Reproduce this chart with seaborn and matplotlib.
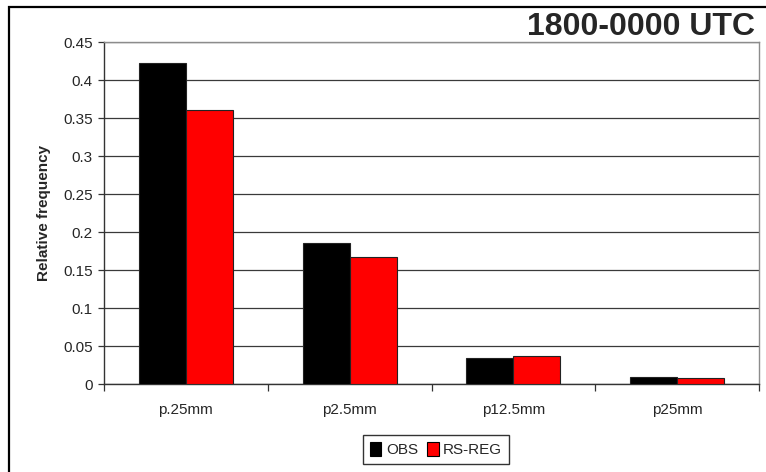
import matplotlib
matplotlib.use("Agg")
import matplotlib.pyplot as plt
from matplotlib.patches import Rectangle
import seaborn as sns
import pandas as pd

categories = ["p.25mm", "p2.5mm", "p12.5mm", "p25mm"]
obs = [0.422, 0.186, 0.034, 0.009]
rs_reg = [0.361, 0.167, 0.037, 0.0085]
series_names = ["OBS", "RS-REG"]
y_ticks = [0, 0.05, 0.1, 0.15, 0.2, 0.25, 0.3, 0.35, 0.4, 0.45]
y_tick_labels = ["0", "0.05", "0.1", "0.15", "0.2", "0.25", "0.3", "0.35", "0.4", "0.45"]

df = pd.DataFrame({
    "category": categories * 2,
    "series": [series_names[0]] * len(categories) + [series_names[1]] * len(categories),
    "value": obs + rs_reg,
})

sns.set_theme(style="white")
plt.rcParams["font.family"] = ["Liberation Sans", "DejaVu Sans"]

W, H = 766, 472
fig = plt.figure(figsize=(W / 100, H / 100), dpi=100)
fig.patch.set_facecolor("white")

# outer frame of the chart area (open on the right and bottom)
fig.add_artist(Rectangle((9 / W, -0.05), 1.2, 1 - 7 / H + 0.05, transform=fig.transFigure,
                         fill=False, edgecolor="black", linewidth=1.6))

ax = fig.add_axes([104 / W, (H - 384) / H, 655 / W, 342 / H])
ax.set_facecolor("white")

sns.barplot(data=df, x="category", y="value", hue="series", order=categories,
            hue_order=series_names, palette=["#000000", "#ff0000"], width=0.575,
            saturation=1, edgecolor="#222222", linewidth=0.8, ax=ax, zorder=3)

ax.set_xlim(-0.5, len(categories) - 0.5)
ax.set_ylim(0, 0.45)
ax.set_yticks(y_ticks)
ax.set_yticklabels(y_tick_labels, fontsize=11)
ax.yaxis.grid(True, color="#3a3a3a", linewidth=0.9, zorder=0)
ax.xaxis.grid(False)

# category boundaries carry the tick marks, labels sit at the centers
ax.set_xticks(range(len(categories)))
ax.set_xticklabels(categories, fontsize=11)
ax.set_xticks([i - 0.5 for i in range(len(categories) + 1)], minor=True)
ax.tick_params(axis="x", which="major", length=0, pad=14)
ax.tick_params(axis="x", which="minor", length=5, width=0.9, color="#333333", direction="out", bottom=True)
ax.tick_params(axis="y", which="major", length=4, width=0.9, color="#333333", direction="out", left=True, pad=4)

for side in ["top", "right"]:
    ax.spines[side].set_visible(True)
    ax.spines[side].set_color("#8c8c8c")
    ax.spines[side].set_linewidth(1.0)
ax.spines["left"].set_color("#333333")
ax.spines["bottom"].set_color("#333333")
ax.spines["left"].set_linewidth(1.0)
ax.spines["bottom"].set_linewidth(1.0)

ax.set_xlabel("")
ax.set_ylabel("Relative frequency", fontsize=11, fontweight="bold", labelpad=9)

fig.text(755 / W, 1 - 35 / H, "1800-0000 UTC", ha="right", va="baseline",
         fontsize=23, fontweight="bold")

leg = ax.legend(loc="center", bbox_to_anchor=(436 / W, 1 - 449.5 / H),
                bbox_transform=fig.transFigure, ncol=2, frameon=True, fancybox=False,
                fontsize=11, handlelength=0.75, handleheight=1.0, handletextpad=0.3,
                columnspacing=0.6, borderpad=0.45, borderaxespad=0)
leg.get_frame().set_edgecolor("black")
leg.get_frame().set_linewidth(1.0)
for h in leg.legend_handles:
    h.set_edgecolor("black")
    h.set_linewidth(0.8)

fig.savefig("out.png", dpi=100, facecolor="white")
